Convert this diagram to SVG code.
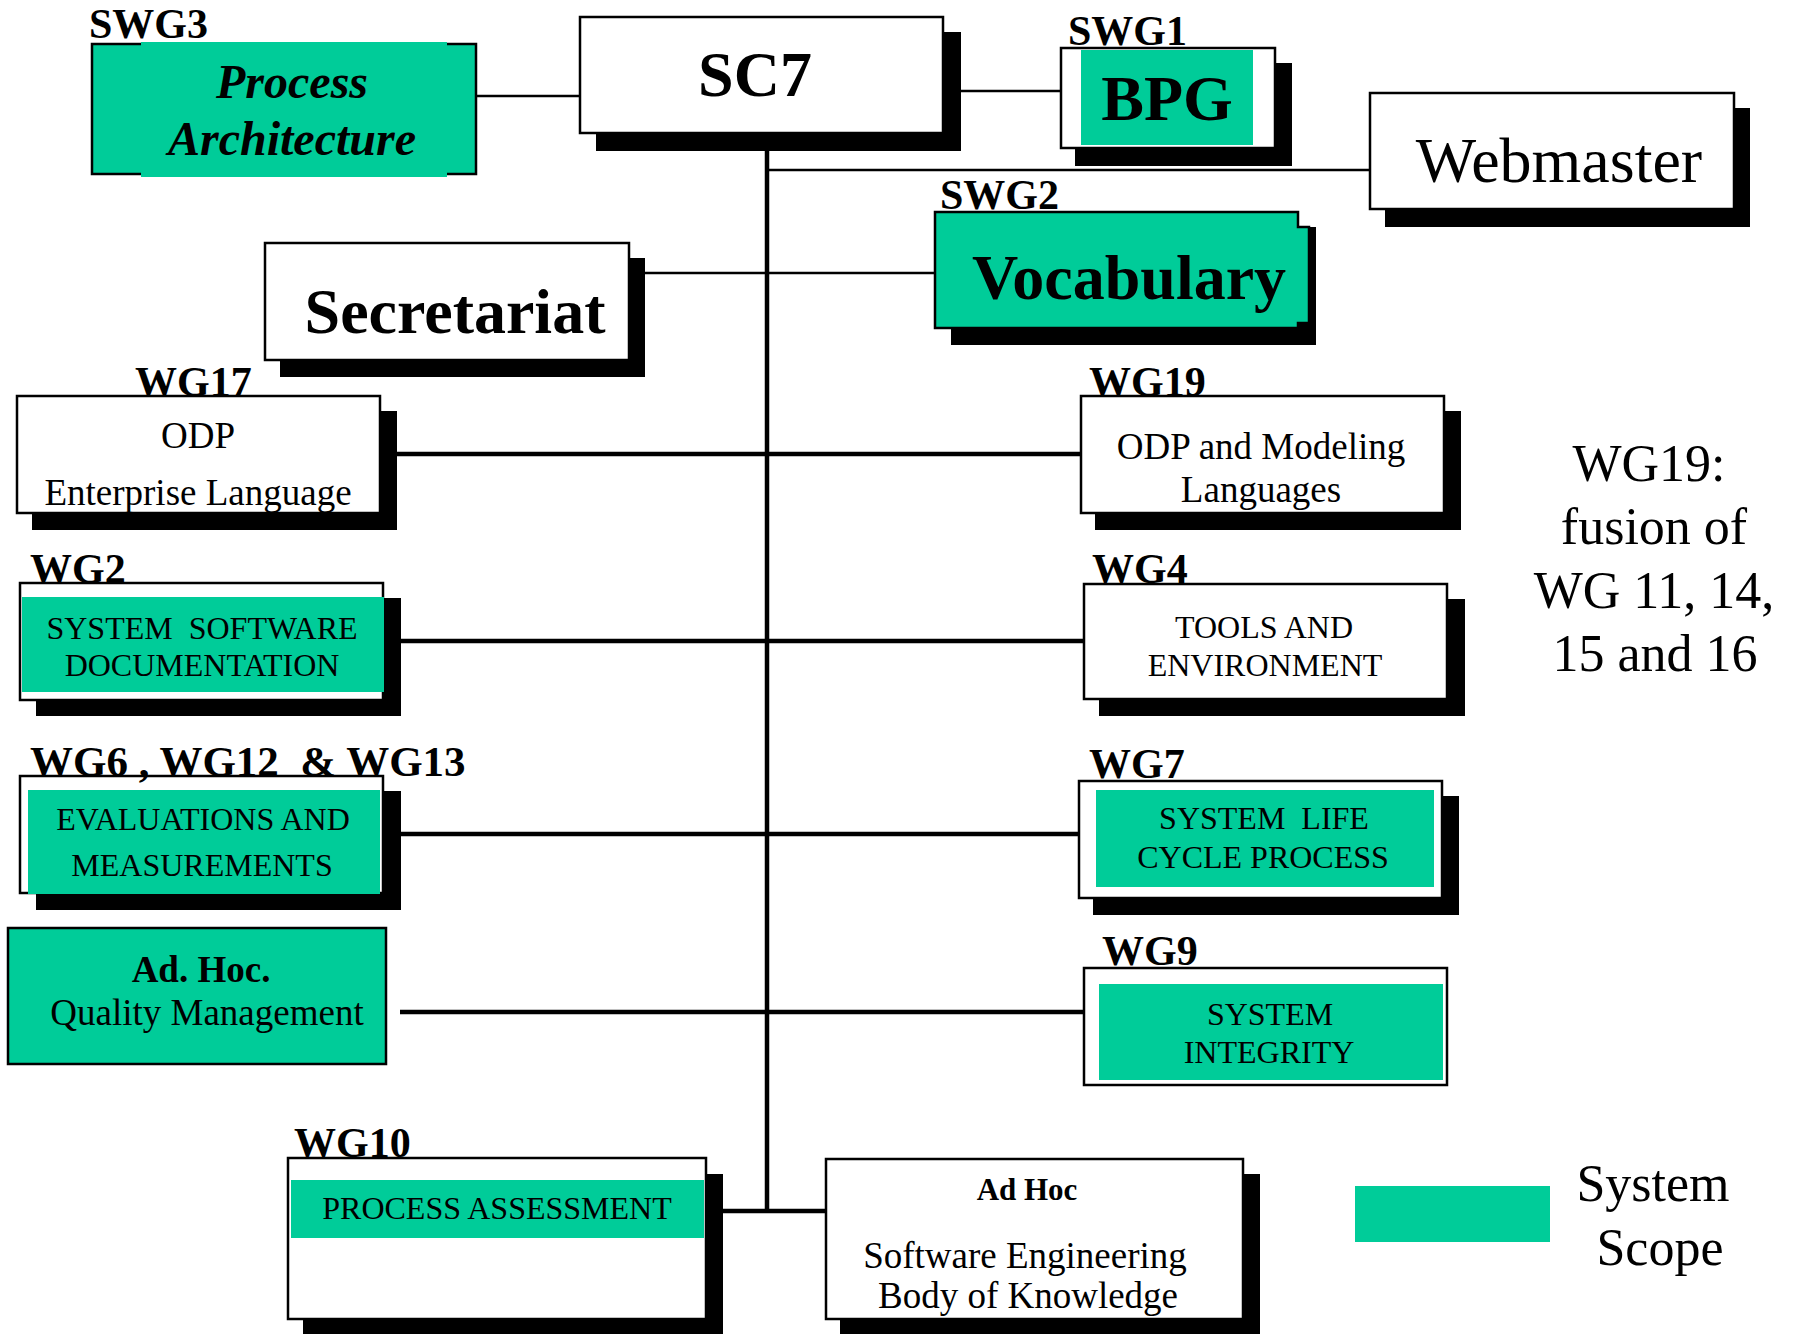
<svg xmlns="http://www.w3.org/2000/svg" width="1798" height="1334" viewBox="0 0 1798 1334">
<style>
  .bg{fill:#ffffff}
  .sh{fill:#000000}
  .box{fill:#ffffff;stroke:#000000;stroke-width:2.5}
  .gbox{fill:#00cc99;stroke:#000000;stroke-width:2.5}
  .g{fill:#00cc99}
  .ln{stroke:#000000;stroke-width:2.5;fill:none}
  .lk{stroke:#000000;stroke-width:4.5;fill:none}
  text{font-family:"Liberation Serif","Times New Roman",serif;fill:#000000}
  .lbl{font-size:42px;font-weight:bold}
  .big{font-size:64px;font-weight:bold;text-anchor:middle}
  .bigr{font-size:64px;text-anchor:middle}
  .pa{font-size:48px;font-weight:bold;font-style:italic;text-anchor:middle}
  .t37{font-size:37px;text-anchor:middle}
  .t32{font-size:32px;text-anchor:middle}
  .b37{font-size:37px;font-weight:bold;text-anchor:middle}
  .b31{font-size:31px;font-weight:bold;text-anchor:middle}
  .note{font-size:52px;text-anchor:middle}
</style>
<rect class="bg" x="0" y="0" width="1798" height="1334"/>

<g id="connectors">
  <line class="lk" x1="767" y1="151" x2="767" y2="1213"/>
  <line class="ln" x1="477" y1="96" x2="580" y2="96"/>
  <line class="ln" x1="961" y1="91" x2="1061" y2="91"/>
  <line class="ln" x1="767" y1="170" x2="1370" y2="170"/>
  <line class="ln" x1="645" y1="273" x2="935" y2="273"/>
  <line class="lk" x1="397" y1="454" x2="1081" y2="454"/>
  <line class="lk" x1="401" y1="641" x2="1084" y2="641"/>
  <line class="lk" x1="401" y1="834" x2="1079" y2="834"/>
  <line class="lk" x1="400" y1="1012" x2="1084" y2="1012"/>
  <line class="lk" x1="723" y1="1211" x2="826" y2="1211"/>
</g>

<g id="swg3">
  <rect class="gbox" x="92" y="44" width="384" height="130"/>
  <rect class="g" x="141" y="42" width="306" height="135"/>
  <text class="lbl" x="89" y="38">SWG3</text>
  <text class="pa" x="292" y="98">Process</text>
  <text class="pa" x="292" y="155">Architecture</text>
</g>

<g id="sc7">
  <rect class="sh" x="596" y="32" width="365" height="119"/>
  <rect class="box" x="580" y="17" width="363" height="116"/>
  <text class="big" x="755" y="96">SC7</text>
</g>

<g id="swg1">
  <rect class="sh" x="1075" y="63" width="217" height="103"/>
  <rect class="box" x="1061" y="48" width="214" height="100"/>
  <rect class="g" x="1081" y="50" width="172" height="95"/>
  <text class="lbl" x="1068" y="45">SWG1</text>
  <text class="big" x="1167" y="120">BPG</text>
</g>

<g id="webmaster">
  <rect class="sh" x="1385" y="108" width="365" height="119"/>
  <rect class="box" x="1370" y="93" width="364" height="116"/>
  <text class="bigr" x="1559" y="182">Webmaster</text>
</g>

<g id="secretariat">
  <rect class="sh" x="280" y="258" width="365" height="119"/>
  <rect class="box" x="265" y="243" width="364" height="117"/>
  <text class="big" x="455" y="333">Secretariat</text>
</g>

<g id="swg2">
  <rect class="sh" x="951" y="227" width="365" height="118"/>
  <path class="gbox" d="M935,212 H1298 V227 H1309 V323 H1298 V328 H935 Z"/>
  <text class="lbl" x="940" y="209">SWG2</text>
  <text class="big" x="1129" y="299">Vocabulary</text>
</g>

<g id="wg17">
  <rect class="sh" x="32" y="411" width="365" height="119"/>
  <rect class="box" x="17" y="396" width="363" height="117"/>
  <text class="lbl" x="135" y="396">WG17</text>
  <text class="t37" x="198" y="448">ODP</text>
  <text class="t37" x="198" y="505">Enterprise Language</text>
</g>

<g id="wg19">
  <rect class="sh" x="1095" y="411" width="366" height="119"/>
  <rect class="box" x="1081" y="396" width="363" height="117"/>
  <text class="lbl" x="1089" y="396">WG19</text>
  <text class="t37" x="1261" y="459">ODP and Modeling</text>
  <text class="t37" x="1261" y="502">Languages</text>
</g>

<g id="wg19-note">
  <text class="note" x="1649" y="481">WG19:</text>
  <text class="note" x="1654" y="544">fusion of</text>
  <text class="note" x="1654" y="608">WG 11, 14,</text>
  <text class="note" x="1655" y="671">15 and 16</text>
</g>

<g id="wg2">
  <rect class="sh" x="36" y="598" width="365" height="118"/>
  <rect class="box" x="20" y="583" width="363" height="117"/>
  <rect class="g" x="22" y="597" width="362" height="95"/>
  <text class="lbl" x="30" y="583">WG2</text>
  <text class="t32" x="202" y="639" xml:space="preserve">SYSTEM  SOFTWARE</text>
  <text class="t32" x="202" y="676">DOCUMENTATION</text>
</g>

<g id="wg4">
  <rect class="sh" x="1099" y="599" width="366" height="117"/>
  <rect class="box" x="1084" y="584" width="363" height="115"/>
  <text class="lbl" x="1092" y="583">WG4</text>
  <text class="t32" x="1264" y="638">TOOLS AND</text>
  <text class="t32" x="1265" y="676">ENVIRONMENT</text>
</g>

<g id="wg6">
  <rect class="sh" x="36" y="791" width="365" height="119"/>
  <rect class="box" x="20" y="776" width="363" height="117"/>
  <rect class="g" x="28" y="790" width="352" height="104"/>
  <text class="lbl" x="30" y="776" style="font-size:43px" xml:space="preserve">WG6 , WG12  &amp; WG13</text>
  <text class="t32" x="203" y="830">EVALUATIONS AND</text>
  <text class="t32" x="202" y="876">MEASUREMENTS</text>
</g>

<g id="wg7">
  <rect class="sh" x="1093" y="796" width="366" height="119"/>
  <rect class="box" x="1079" y="781" width="363" height="117"/>
  <rect class="g" x="1096" y="790" width="338" height="97"/>
  <text class="lbl" x="1089" y="778">WG7</text>
  <text class="t32" x="1264" y="829" xml:space="preserve">SYSTEM  LIFE</text>
  <text class="t32" x="1263" y="868">CYCLE PROCESS</text>
</g>

<g id="adhoc-qm">
  <rect class="gbox" x="8" y="928" width="378" height="136"/>
  <text class="b37" x="201" y="982">Ad. Hoc.</text>
  <text class="t37" x="207" y="1025">Quality Management</text>
</g>

<g id="wg9">
  <rect class="box" x="1084" y="968" width="363" height="117"/>
  <rect class="g" x="1099" y="984" width="344" height="96"/>
  <text class="lbl" x="1102" y="965">WG9</text>
  <text class="t32" x="1270" y="1025">SYSTEM</text>
  <text class="t32" x="1269" y="1063">INTEGRITY</text>
</g>

<g id="wg10">
  <rect class="sh" x="303" y="1174" width="420" height="160"/>
  <rect class="box" x="288" y="1158" width="418" height="161"/>
  <rect class="g" x="291" y="1180" width="413" height="58"/>
  <text class="lbl" x="294" y="1157">WG10</text>
  <text class="t32" x="497" y="1219">PROCESS ASSESSMENT</text>
</g>

<g id="swebok">
  <rect class="sh" x="840" y="1174" width="420" height="160"/>
  <rect class="box" x="826" y="1159" width="417" height="160"/>
  <text class="b31" x="1027" y="1200">Ad Hoc</text>
  <text class="t37" x="1025" y="1268">Software Engineering</text>
  <text class="t37" x="1028" y="1308">Body of Knowledge</text>
</g>

<g id="legend">
  <rect class="g" x="1355" y="1186" width="195" height="56"/>
  <text class="note" x="1653" y="1201">System</text>
  <text class="note" x="1660" y="1265">Scope</text>
</g>
</svg>
